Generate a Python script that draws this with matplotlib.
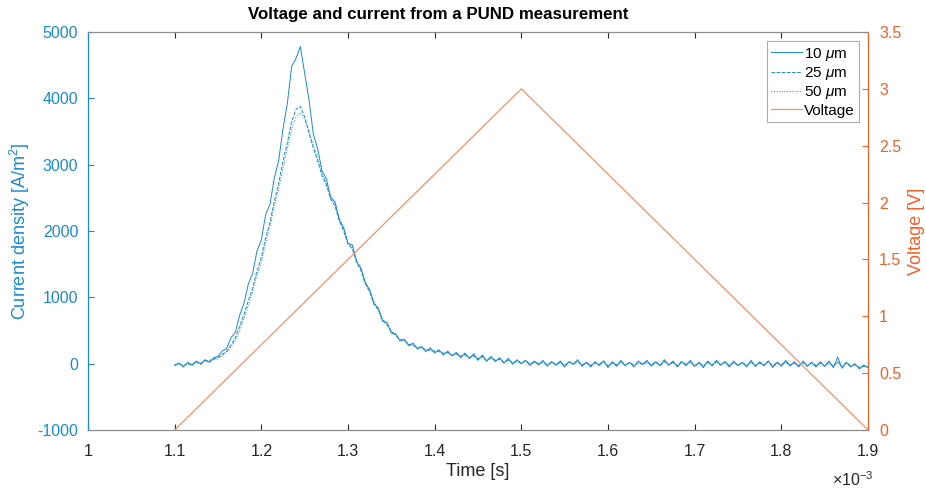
import numpy as np
import matplotlib
matplotlib.use("Agg")
import matplotlib.pyplot as plt
from matplotlib.ticker import FuncFormatter

plt.rcParams['font.family'] = ['Liberation Sans', 'DejaVu Sans']
plt.rcParams['mathtext.fontset'] = 'custom'
plt.rcParams['mathtext.rm'] = 'Liberation Sans'
plt.rcParams['mathtext.it'] = 'Liberation Sans:italic'
plt.rcParams['axes.unicode_minus'] = False

# time in ms (axis shows x10^-3 s)
time_ms = np.linspace(1.100, 1.900, 161)

j_10um = [
    -30, 10, -50, 20, -20, 40, 0, 60, 30, 90,
    110, 190, 230, 390, 470, 730, 910, 1200, 1360, 1700,
    1860, 2250, 2400, 2800, 3060, 3540, 3920, 4480, 4600, 4780,
    4380, 3980, 3460, 3240, 2910, 2790, 2510, 2440, 2170, 2050,
    1810, 1790, 1540, 1440, 1210, 1120, 900, 840, 640, 620,
    460, 450, 340, 370, 270, 310, 220, 260, 180, 240,
    160, 210, 130, 190, 120, 170, 90, 160, 80, 150,
    50, 130, 40, 110, 30, 90, 10, 80, -10, 60,
    0, 50, -30, 40, -20, 50, -40, 30, -20, 40,
    -50, 30, -10, 60, -40, 20, -50, 30, -30, 40,
    -60, 30, -40, 50, -30, 20, -50, 40, -10, 50,
    -40, 30, -30, 60, -20, 40, -50, 30, -30, 50,
    -40, 20, -60, 40, -30, 50, -20, 30, -50, 40,
    -30, 20, -50, 50, -40, 30, -30, 40, -60, 20,
    -40, 50, -30, 30, -50, 40, -40, 20, -50, 30,
    -40, 40, -60, 100, -70, 20, -50, 0, -80, -20,
    -60,
]

j_25um = [
    -20, 0, -40, 10, -30, 30, -10, 50, 20, 70,
    90, 140, 190, 280, 390, 560, 740, 950, 1140, 1400,
    1600, 1900, 2130, 2450, 2720, 3050, 3330, 3650, 3830, 3880,
    3720, 3480, 3250, 3060, 2830, 2700, 2480, 2380, 2150, 2000,
    1800, 1730, 1530, 1400, 1210, 1080, 900, 810, 650, 590,
    480, 430, 360, 350, 290, 280, 240, 240, 200, 210,
    180, 190, 150, 170, 120, 150, 110, 140, 80, 120,
    70, 110, 40, 90, 50, 70, 10, 60, 10, 40,
    0, 50, -10, 20, 0, 30, -20, 30, -20, 20,
    -30, 30, -10, 40, -20, 20, -30, 10, -10, 40,
    -40, 10, -20, 30, -30, 20, -30, 20, -10, 30,
    -20, 30, -30, 40, -20, 20, -30, 30, -10, 30,
    -40, 20, -40, 20, -30, 30, -20, 30, -30, 20,
    -30, 20, -30, 30, -40, 10, -30, 40, -40, 20,
    -20, 30, -30, 10, -30, 20, -40, 20, -30, 10,
    -40, 20, -40, 30, -50, 20, -30, -20, -60, -40,
    -50,
]

j_50um = [
    -20, 10, -30, 0, -20, 20, -10, 40, 30, 60,
    80, 120, 170, 250, 350, 500, 680, 880, 1080, 1330,
    1530, 1820, 2060, 2370, 2640, 2950, 3240, 3530, 3720, 3780,
    3700, 3500, 3300, 3100, 2880, 2720, 2520, 2400, 2190, 2030,
    1830, 1750, 1560, 1420, 1240, 1100, 930, 820, 670, 600,
    490, 440, 370, 350, 300, 280, 250, 240, 210, 200,
    190, 180, 160, 160, 130, 140, 120, 130, 90, 110,
    80, 100, 50, 80, 50, 60, 20, 50, 20, 30,
    10, 40, 0, 20, 0, 20, -10, 20, -20, 20,
    -20, 20, -10, 30, -20, 10, -20, 10, -10, 30,
    -30, 10, -20, 20, -20, 20, -20, 10, -10, 20,
    -20, 20, -20, 30, -20, 10, -30, 20, -10, 20,
    -30, 10, -30, 20, -20, 20, -20, 20, -30, 10,
    -20, 10, -30, 20, -30, 10, -20, 30, -30, 10,
    -20, 20, -30, 10, -30, 10, -30, 10, -30, 10,
    -30, 10, -40, 20, -40, 10, -30, -20, -50, -40,
    -50,
]

volt_time_ms = [1.1, 1.5, 1.9]
voltage = [0.0, 3.0, 0.0]

blue = '#1A8AD0'
orange = '#F0602A'
volt_line = '#F5906A'
grey = '#8C8C8C'
dark = '#262626'

fig = plt.figure(figsize=(9.26, 4.92), dpi=100)
ax = fig.add_axes([0.095, 0.126, 0.8424, 0.809])
ax2 = ax.twinx()

l1, = ax.plot(time_ms, j_10um, color=blue, lw=0.7, ls='-', label='10 $\\mu$m')
l2, = ax.plot(time_ms, j_25um, color=blue, lw=0.7, ls='--', label='25 $\\mu$m')
l3, = ax.plot(time_ms, j_50um, color=blue, lw=0.7, ls=':', label='50 $\\mu$m')
l4, = ax2.plot(volt_time_ms, voltage, color=volt_line, lw=0.9, label='Voltage')

ax.set_xlim(1.0, 1.9)
ax.set_ylim(-1000, 5000)
ax2.set_ylim(0, 3.5)
ax.set_xticks(np.arange(1.0, 1.91, 0.1))
ax.xaxis.set_major_formatter(FuncFormatter(lambda v, p: f'{v:g}'))
ax.set_yticks(np.arange(-1000, 5001, 1000))
ax.yaxis.set_major_formatter(FuncFormatter(lambda v, p: f'{v:g}'))
ax2.set_yticks(np.arange(0, 3.51, 0.5))
ax2.yaxis.set_major_formatter(FuncFormatter(lambda v, p: f'{v:g}'))

ax.tick_params(axis='x', direction='in', colors=dark, labelsize=11.5, length=4,
               top=True, pad=10)
ax.tick_params(axis='y', direction='in', colors=blue, labelsize=11.5, length=4, pad=7)
ax2.tick_params(axis='y', direction='in', colors=orange, labelsize=11.5, length=4, pad=8)

for a in (ax, ax2):
    a.spines['top'].set_color(grey)
    a.spines['bottom'].set_color(grey)
    a.spines['left'].set_color(blue)
    a.spines['right'].set_color(orange)
    for s in a.spines.values():
        s.set_linewidth(0.8)

ax.set_xlabel('Time [s]', fontsize=13, color=dark, labelpad=3)
ax.set_ylabel('Current density [A/m$^2$]', fontsize=13, color=blue, labelpad=4)
ax2.set_ylabel('Voltage [V]', fontsize=13, color=orange, labelpad=5)
fig.text(438 / 926, 1 - 15 / 492, 'Voltage and current from a PUND measurement',
         fontsize=12.2, fontweight='bold', ha='center', va='center')

ax.text(0.98, -0.1, '$\\times$10$^{-3}$', transform=ax.transAxes, ha='center',
        va='top', fontsize=11.5, color=dark)

leg = ax2.legend(handles=[l1, l2, l3, l4], loc='upper right', fontsize=11,
                 frameon=True, fancybox=False, borderpad=0.3, handlelength=2.0,
                 handletextpad=0.1, labelspacing=0.15, borderaxespad=0.6)
leg.get_frame().set_edgecolor('#999999')
leg.get_frame().set_linewidth(0.8)

fig.savefig('out.png', dpi=100)
